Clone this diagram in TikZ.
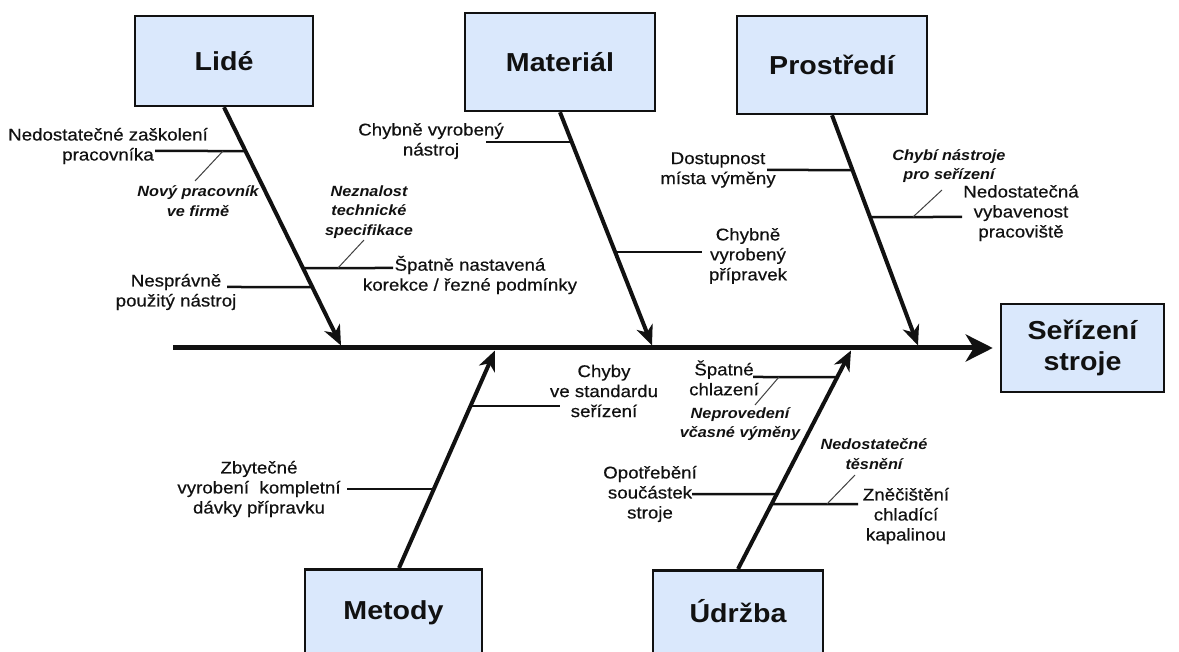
\documentclass[tikz,border=0pt]{standalone}
\usepackage{fontspec}
\setmainfont{Liberation Sans}[FakeStretch=1.1]
\usetikzlibrary{arrows.meta}
\definecolor{boxfill}{HTML}{DAE8FC}
\definecolor{ink}{HTML}{111111}

\begin{document}
\begin{tikzpicture}[x=1pt,y=-1pt,
  catbox/.style={draw=ink, line width=2.5pt, fill=boxfill, text=ink,
    font=\fontsize{26}{31}\selectfont\bfseries, align=center, inner sep=0pt},
  cause/.style={font=\fontsize{17}{20}\selectfont\addfontfeatures{FakeBold=0.4}, text=ink,
    align=center, inner sep=0pt},
  subcause/.style={font=\fontsize{14.8}{19.5}\selectfont\bfseries\itshape, text=ink,
    align=center, inner sep=0pt},
  spine/.style={draw=ink, line width=5pt, -{Stealth[length=27pt,width=27pt,inset=8pt]}},
  bone/.style={draw=ink, line width=4pt, -{Stealth[length=20pt,width=17pt,inset=6pt]}},
  twig/.style={draw=ink, line width=2.5pt},
  tick/.style={draw=ink!80, line width=1pt}
]
\clip (0,0) rectangle (1179,652);
\fill[white] (0,0) rectangle (1179,652);

% category boxes and effect
\node[catbox, minimum width=178pt, minimum height=90pt] (lide) at (224,61) {Lidé};
\node[catbox, minimum width=190pt, minimum height=98pt] (material) at (560,62) {Materiál};
\node[catbox, minimum width=190pt, minimum height=98pt] (prostredi) at (832,65) {Prostředí};
\node[catbox, anchor=north, minimum width=177pt, text height=50pt, text depth=62pt] (metody) at (393.5,568) {Metody};
\node[catbox, anchor=north, minimum width=170pt, text height=52pt, text depth=62pt] (udrzba) at (738,569) {Údržba};
\node[catbox, minimum width=163pt, minimum height=88pt] (seriz) at (1082.5,348) {Seřízení\\stroje};

% spine
\coordinate (spinestart) at (173,348);
\draw[spine] (spinestart) -- ([xshift=-7pt]seriz.west);

% main bones
\coordinate (tipL) at (341,345.5);
\coordinate (tipM) at (652,345.5);
\coordinate (tipP) at (918,345.5);
\coordinate (tipMe) at (495,350.5);
\coordinate (tipU) at (851,350.5);
\coordinate (startMe) at (399,568);
\draw[bone] (lide.south) -- (tipL);
\draw[bone] (material.south) -- (tipM);
\draw[bone] (prostredi.south) -- (tipP);
\draw[bone] (startMe) -- (tipMe);
\draw[bone] (udrzba.north) -- (tipU);

% ---- Lidé
\node[cause] (nz) at (108,146) {Nedostatečné zaškolení\\pracovníka};
\coordinate (nzA) at (intersection of lide.south--tipL and 0,151--10,151);
\coordinate (nzE) at (155,151);
\draw[twig] (nzA) -- (nzE);
\node[subcause] (np) at (198,201) {Nový pracovník\\ve firmě};
\coordinate (npA) at (223,151);
\coordinate (npE) at (195,181);
\draw[tick] (npA) -- (npE);

\node[cause] (sn) at (470,275) {Špatně nastavená\\korekce / řezné podmínky};
\coordinate (snA) at (intersection of lide.south--tipL and 0,268--10,268);
\coordinate (snE) at (393,268);
\draw[twig] (snA) -- (snE);
\node[subcause] (nts) at (369,212) {Neznalost\\technické\\specifikace};
\coordinate (ntsA) at (338,268);
\coordinate (ntsE) at (364,240);
\draw[tick] (ntsA) -- (ntsE);

\node[cause] (pn) at (176,292) {Nesprávně\\použitý nástroj};
\coordinate (pnA) at (intersection of lide.south--tipL and 0,287--10,287);
\coordinate (pnE) at (227,287);
\draw[twig] (pnA) -- (pnE);

% ---- Materiál
\node[cause] (cvn) at (431,141) {Chybně vyrobený\\nástroj};
\coordinate (cvnA) at (intersection of material.south--tipM and 0,142--10,142);
\coordinate (cvnE) at (486,142);
\draw[twig] (cvnA) -- (cvnE);

\node[cause] (cvp) at (748,256) {Chybně\\vyrobený\\přípravek};
\coordinate (cvpA) at (intersection of material.south--tipM and 0,252--10,252);
\coordinate (cvpE) at (702,252);
\draw[twig] (cvpA) -- (cvpE);

% ---- Prostředí
\node[cause] (dm) at (718,170) {Dostupnost\\místa výměny};
\coordinate (dmA) at (intersection of prostredi.south--tipP and 0,170--10,170);
\coordinate (dmE) at (767,170);
\draw[twig] (dmA) -- (dmE);

\node[cause] (nvp) at (1021,213) {Nedostatečná\\vybavenost\\pracoviště};
\coordinate (nvpA) at (intersection of prostredi.south--tipP and 0,217--10,217);
\coordinate (nvpE) at (962,217);
\draw[twig] (nvpA) -- (nvpE);
\node[subcause] (cn) at (949,166) {Chybí nástroje\\pro seřízení};
\coordinate (cnA) at (913,217);
\coordinate (cnE) at (942,190);
\draw[tick] (cnA) -- (cnE);

% ---- Metody
\node[cause] (cs) at (604,391) {Chyby\\ve standardu\\seřízení};
\coordinate (csA) at (intersection of startMe--tipMe and 0,406--10,406);
\coordinate (csE) at (560,406);
\draw[twig] (csA) -- (csE);

\node[cause] (zv) at (259,489) {Zbytečné\\vyrobení~ kompletní\\dávky přípravku};
\coordinate (zvA) at (intersection of startMe--tipMe and 0,489--10,489);
\coordinate (zvE) at (347,489);
\draw[twig] (zvA) -- (zvE);

% ---- Údržba
\node[cause] (sch) at (724,378) {Špatné\\chlazení};
\coordinate (schA) at (intersection of udrzba.north--tipU and 0,377--10,377);
\coordinate (schE) at (753,377);
\draw[twig] (schA) -- (schE);
\node[subcause] (nvv) at (740,424) {Neprovedení\\včasné výměny};
\coordinate (nvvA) at (779,377);
\coordinate (nvvE) at (755,405);
\draw[tick] (nvvA) -- (nvvE);

\node[cause] (os) at (650,494) {Opotřebění\\součástek\\stroje};
\coordinate (osA) at (intersection of udrzba.north--tipU and 0,494--10,494);
\coordinate (osE) at (692,494);
\draw[twig] (osA) -- (osE);

\node[cause] (zk) at (906,516) {Zněčištění\\chladící\\kapalinou};
\coordinate (zkA) at (intersection of udrzba.north--tipU and 0,504--10,504);
\coordinate (zkE) at (858,504);
\draw[twig] (zkA) -- (zkE);
\node[subcause] (nt) at (874,454) {Nedostatečné\\těsnění};
\coordinate (ntA) at (827,504);
\coordinate (ntE) at (855,475);
\draw[tick] (ntA) -- (ntE);

\end{tikzpicture}
\end{document}
